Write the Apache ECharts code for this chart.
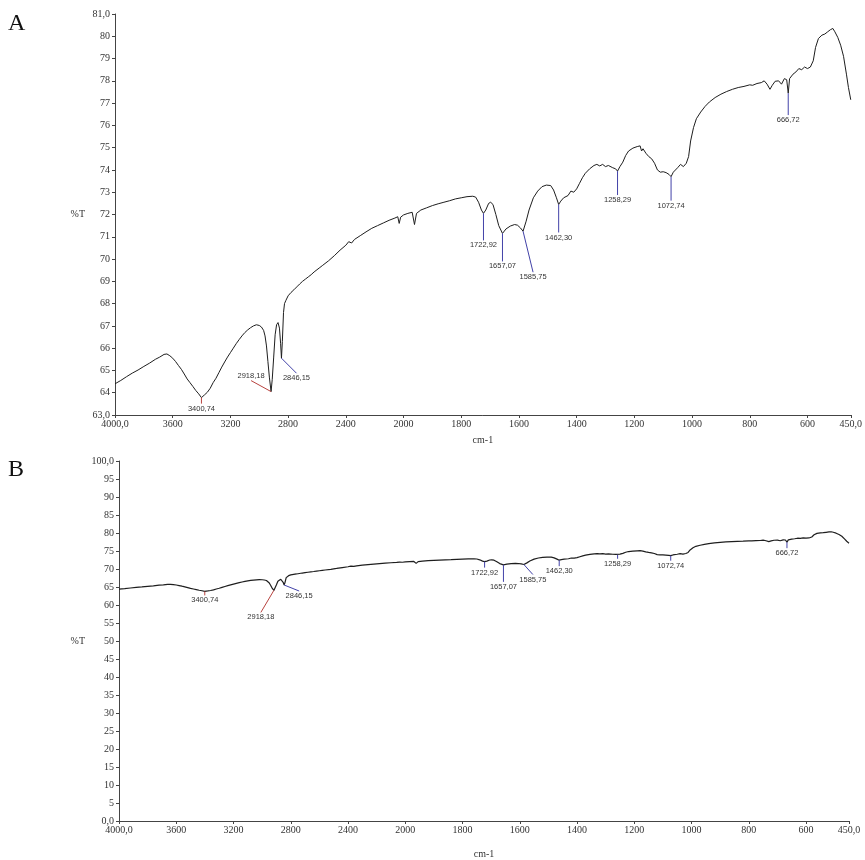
<!DOCTYPE html>
<html>
<head>
<meta charset="utf-8">
<script src="https://cdn.jsdelivr.net/npm/echarts@6/dist/echarts.min.js"></script>
<style>
  html, body { margin: 0; padding: 0; background: #fff; }
  #chart { width: 865px; height: 860px; }
</style>
</head>
<body>
<div id="chart"></div>
<script>
// IR spectrum: wavenumber (cm-1) and transmittance (%T)
const wavenumbers = [
  4000, 3960, 3920, 3880, 3840, 3800, 3760, 3720, 3690, 3660, 3640, 3620, 3600, 3580, 3560, 3540,
  3520, 3500, 3480, 3460, 3440, 3420, 3400.74, 3380, 3360, 3340, 3320, 3300, 3280, 3260, 3240, 3220,
  3200, 3180, 3160, 3140, 3120, 3100, 3080, 3060, 3040, 3020, 3000, 2985, 2970, 2960, 2950, 2940,
  2930, 2918.18, 2910, 2900, 2890, 2880, 2870, 2860, 2852, 2846.15, 2840, 2832, 2825, 2815, 2800,
  2780, 2760, 2740, 2720, 2700, 2680, 2660, 2640, 2620, 2600, 2580, 2560, 2520, 2480, 2440, 2400,
  2380, 2360, 2340, 2300, 2260, 2220, 2180, 2140, 2100, 2060, 2040, 2030, 2020, 2000, 1985, 1970,
  1962, 1955, 1940, 1920, 1900, 1880, 1860, 1840, 1820, 1800, 1780, 1760, 1750, 1740, 1730, 1722.92,
  1715, 1705, 1698, 1690, 1680, 1670, 1657.07, 1645, 1630, 1615, 1605, 1595, 1585.75, 1575, 1565,
  1550, 1535, 1520, 1505, 1490, 1480, 1470, 1462.30, 1455, 1445, 1430, 1420, 1410, 1400, 1390, 1380,
  1370, 1355, 1340, 1330, 1320, 1310, 1300, 1290, 1275, 1265, 1258.29, 1250, 1240, 1230, 1220, 1205,
  1190, 1180, 1175, 1170, 1160, 1150, 1140, 1130, 1120, 1110, 1100, 1090, 1080, 1072.74, 1065, 1050,
  1040, 1030, 1020, 1012, 1005, 995, 985, 970, 955, 940, 920, 900, 880, 860, 840, 820,
  800, 790, 775, 760, 750, 740, 730, 722, 712, 700, 690, 680, 672, 666.72, 662, 650,
  640, 630, 620, 610, 600, 590, 580, 572, 562, 550, 540, 530, 520, 512, 505, 495,
  485, 475, 465, 458, 450
];
const transmittance = [
  64.40, 64.55, 64.72, 64.88, 65.02, 65.18, 65.33, 65.50, 65.60, 65.72, 65.74, 65.66, 65.55, 65.40, 65.22, 65.05,
  64.84, 64.62, 64.45, 64.28, 64.10, 63.95, 63.78, 63.90, 64.02, 64.20, 64.45, 64.65, 64.90, 65.15, 65.38, 65.60,
  65.80, 66.00, 66.20, 66.38, 66.55, 66.70, 66.82, 66.92, 67.00, 67.05, 67.02, 66.95, 66.80, 66.55, 66.10, 65.40,
  64.70, 64.05, 64.60, 65.60, 66.60, 67.05, 67.15, 66.90, 66.20, 65.55, 66.30, 67.60, 68.00, 68.15, 68.35,
  68.50, 68.62, 68.75, 68.88, 69.00, 69.10, 69.20, 69.30, 69.42, 69.52, 69.62, 69.72, 69.92, 70.15, 70.40, 70.62,
  70.78, 70.72, 70.88, 71.05, 71.22, 71.38, 71.50, 71.62, 71.74, 71.84, 71.90, 71.60, 71.88, 71.98, 72.05, 72.10,
  71.55, 72.05, 72.20, 72.30, 72.40, 72.48, 72.55, 72.62, 72.70, 72.75, 72.80, 72.82, 72.78, 72.55, 72.20, 72.05,
  72.20, 72.50, 72.55, 72.45, 72.00, 71.50, 71.15, 71.35, 71.48, 71.55, 71.52, 71.40, 71.25, 71.70, 72.20,
  72.75, 73.05, 73.25, 73.32, 73.30, 73.10, 72.75, 72.45, 72.60, 72.75, 72.85, 73.05, 73.00, 73.15, 73.40, 73.65,
  73.85, 74.05, 74.20, 74.25, 74.18, 74.25, 74.15, 74.20, 74.10, 74.05, 73.95, 74.15, 74.35, 74.65, 74.85, 74.98,
  75.05, 75.08, 74.85, 74.95, 74.75, 74.60, 74.50, 74.30, 74.00, 73.90, 73.92, 73.88, 73.80, 73.70, 73.90, 74.10,
  74.25, 74.15, 74.30, 74.60, 75.30, 75.90, 76.30, 76.60, 76.85, 77.05, 77.25, 77.40, 77.52, 77.62, 77.70, 77.75,
  77.82, 77.80, 77.88, 77.92, 78.00, 77.85, 77.62, 77.80, 77.98, 78.00, 77.85, 78.10, 78.05, 77.45, 78.10, 78.30,
  78.40, 78.55, 78.50, 78.62, 78.55, 78.62, 78.90, 79.50, 79.90, 80.05, 80.10, 80.20, 80.30, 80.35, 80.20, 79.95,
  79.60, 79.10, 78.30, 77.70, 77.15
];

// Labelled absorption bands
const peakWavenumbers = [3400.74, 2918.18, 2846.15, 1722.92, 1657.07, 1585.75, 1462.30, 1258.29, 1072.74, 666.72];
const peakTransmittance = [63.78, 64.05, 65.55, 72.05, 71.15, 71.25, 72.45, 73.95, 73.70, 77.45];
const peakLabels = ['3400,74', '2918,18', '2846,15', '1722,92', '1657,07', '1585,75', '1462,30', '1258,29', '1072,74', '666,72'];

// Axis ticks
const xTickWavenumbers = [4000, 3600, 3200, 2800, 2400, 2000, 1800, 1600, 1400, 1200, 1000, 800, 600, 450];
const xTickLabels = ['4000,0', '3600', '3200', '2800', '2400', '2000', '1800', '1600', '1400', '1200', '1000', '800', '600', '450,0'];
const yRangeA = [63, 81];
const yRangeB = [0, 100];

// ---- drawing ----
// Instrument scale: 4000-2000 cm-1 is drawn at half the density of 2000-450 cm-1.
function toAxis(w) { return w >= 2000 ? (4000 - w) / 2 : 1000 + (2000 - w); }
const axisMax = toAxis(450);

const spectrum = wavenumbers.map((w, i) => [toAxis(w), transmittance[i]]);
const peaks = peakWavenumbers.map((w, i) => [toAxis(w), peakTransmittance[i]]);

const RED = '#b8433f', BLUE = '#4242a8';
const peakColors = peakWavenumbers.map(w => (w > 2900 ? RED : BLUE));

// leader offsets in px from the band minimum: [dx, dy, label side]
const leadersA = [[0, 6, 'below'], [-20, -11, 'above'], [15, 15, 'below'], [0, 27, 'below'], [0, 28, 'below'],
                  [10, 41, 'below'], [0, 28, 'below'], [0, 24, 'below'], [0, 24, 'below'], [0, 22, 'below']];
const leadersB = [[0, 4, 'below'], [-13, 22, 'below'], [15, 6, 'below'], [0, 6, 'below'], [0, 17, 'below'],
                  [9, 10, 'below'], [0, 6, 'below'], [0, 4, 'below'], [0, 5, 'below'], [0, 6, 'below']];

const tickFont = 'Liberation Serif, DejaVu Serif, serif';
const peakFont = '7.5px "Liberation Sans", Arial, sans-serif';

function leaderRenderer(leaders) {
  return function (params, api) {
    const i = params.dataIndex;
    const p = api.coord([api.value(0), api.value(1)]);
    const [dx, dy, side] = leaders[i];
    const ex = p[0] + dx, ey = p[1] + dy;
    const below = side !== 'above';
    return {
      type: 'group',
      children: [
        { type: 'line', shape: { x1: p[0], y1: p[1], x2: ex, y2: ey },
          style: { stroke: peakColors[i], lineWidth: 1 } },
        { type: 'text',
          style: { text: peakLabels[i], x: ex, y: below ? ey + 1 : ey - 1,
                   align: 'center', verticalAlign: below ? 'top' : 'bottom',
                   font: peakFont, fill: '#333' } }
      ]
    };
  };
}

function xAxisFor(gridIndex, nameGap) {
  const values = xTickWavenumbers.map(toAxis);
  return {
    gridIndex, type: 'value', min: 0, max: axisMax,
    name: 'cm-1', nameLocation: 'middle', nameGap,
    nameTextStyle: { fontFamily: tickFont, fontSize: 10, color: '#333' },
    axisLine: { show: true, lineStyle: { color: '#444', width: 1 } },
    axisTick: { show: true, length: 3, customValues: values, lineStyle: { color: '#444' } },
    axisLabel: {
      customValues: values, margin: 4, fontFamily: tickFont, fontSize: 10, color: '#333',
      hideOverlap: false,
      formatter: v => xTickLabels[values.findIndex(u => Math.abs(u - v) < 1e-6)]
    },
    splitLine: { show: false }
  };
}

function yAxisFor(gridIndex, range, interval, nameGap) {
  return {
    gridIndex, type: 'value', min: range[0], max: range[1], interval,
    name: '%T', nameLocation: 'middle', nameRotate: 0, nameGap,
    nameTextStyle: { fontFamily: tickFont, fontSize: 10, color: '#333' },
    axisLine: { show: true, lineStyle: { color: '#444', width: 1 } },
    axisTick: { show: true, length: 3, lineStyle: { color: '#444' } },
    axisLabel: {
      margin: 5, fontFamily: tickFont, fontSize: 10, color: '#333', showMinLabel: true, showMaxLabel: true,
      formatter: v => (v === range[0] || v === range[1]) ? v.toFixed(1).replace('.', ',') : String(v)
    },
    splitLine: { show: false }
  };
}

const chart = echarts.init(document.getElementById('chart'), null, { renderer: 'canvas' });
chart.setOption({
  animation: false,
  backgroundColor: '#fff',
  grid: [
    { left: 115, top: 14, width: 738, height: 401 },
    { left: 119, top: 461, width: 730, height: 361 }
  ],
  xAxis: [xAxisFor(0, 20), xAxisFor(1, 28)],
  yAxis: [yAxisFor(0, yRangeA, 1, 30), yAxisFor(1, yRangeB, 5, 34)],
  graphic: [
    { type: 'text', left: 8, top: 12, style: { text: 'A', font: '24px "Liberation Serif", serif', fill: '#111' } },
    { type: 'text', left: 8, top: 458, style: { text: 'B', font: '24px "Liberation Serif", serif', fill: '#111' } }
  ],
  series: [
    { type: 'line', xAxisIndex: 0, yAxisIndex: 0, data: spectrum, showSymbol: false, smooth: false,
      lineStyle: { color: '#1e1e1e', width: 1 }, z: 2 },
    { type: 'custom', xAxisIndex: 0, yAxisIndex: 0, data: peaks, renderItem: leaderRenderer(leadersA), z: 3 },
    { type: 'line', xAxisIndex: 1, yAxisIndex: 1, data: spectrum, showSymbol: false, smooth: false,
      lineStyle: { color: '#1e1e1e', width: 1.2 }, z: 2 },
    { type: 'custom', xAxisIndex: 1, yAxisIndex: 1, data: peaks, renderItem: leaderRenderer(leadersB), z: 3 }
  ]
});
</script>
</body>
</html>
